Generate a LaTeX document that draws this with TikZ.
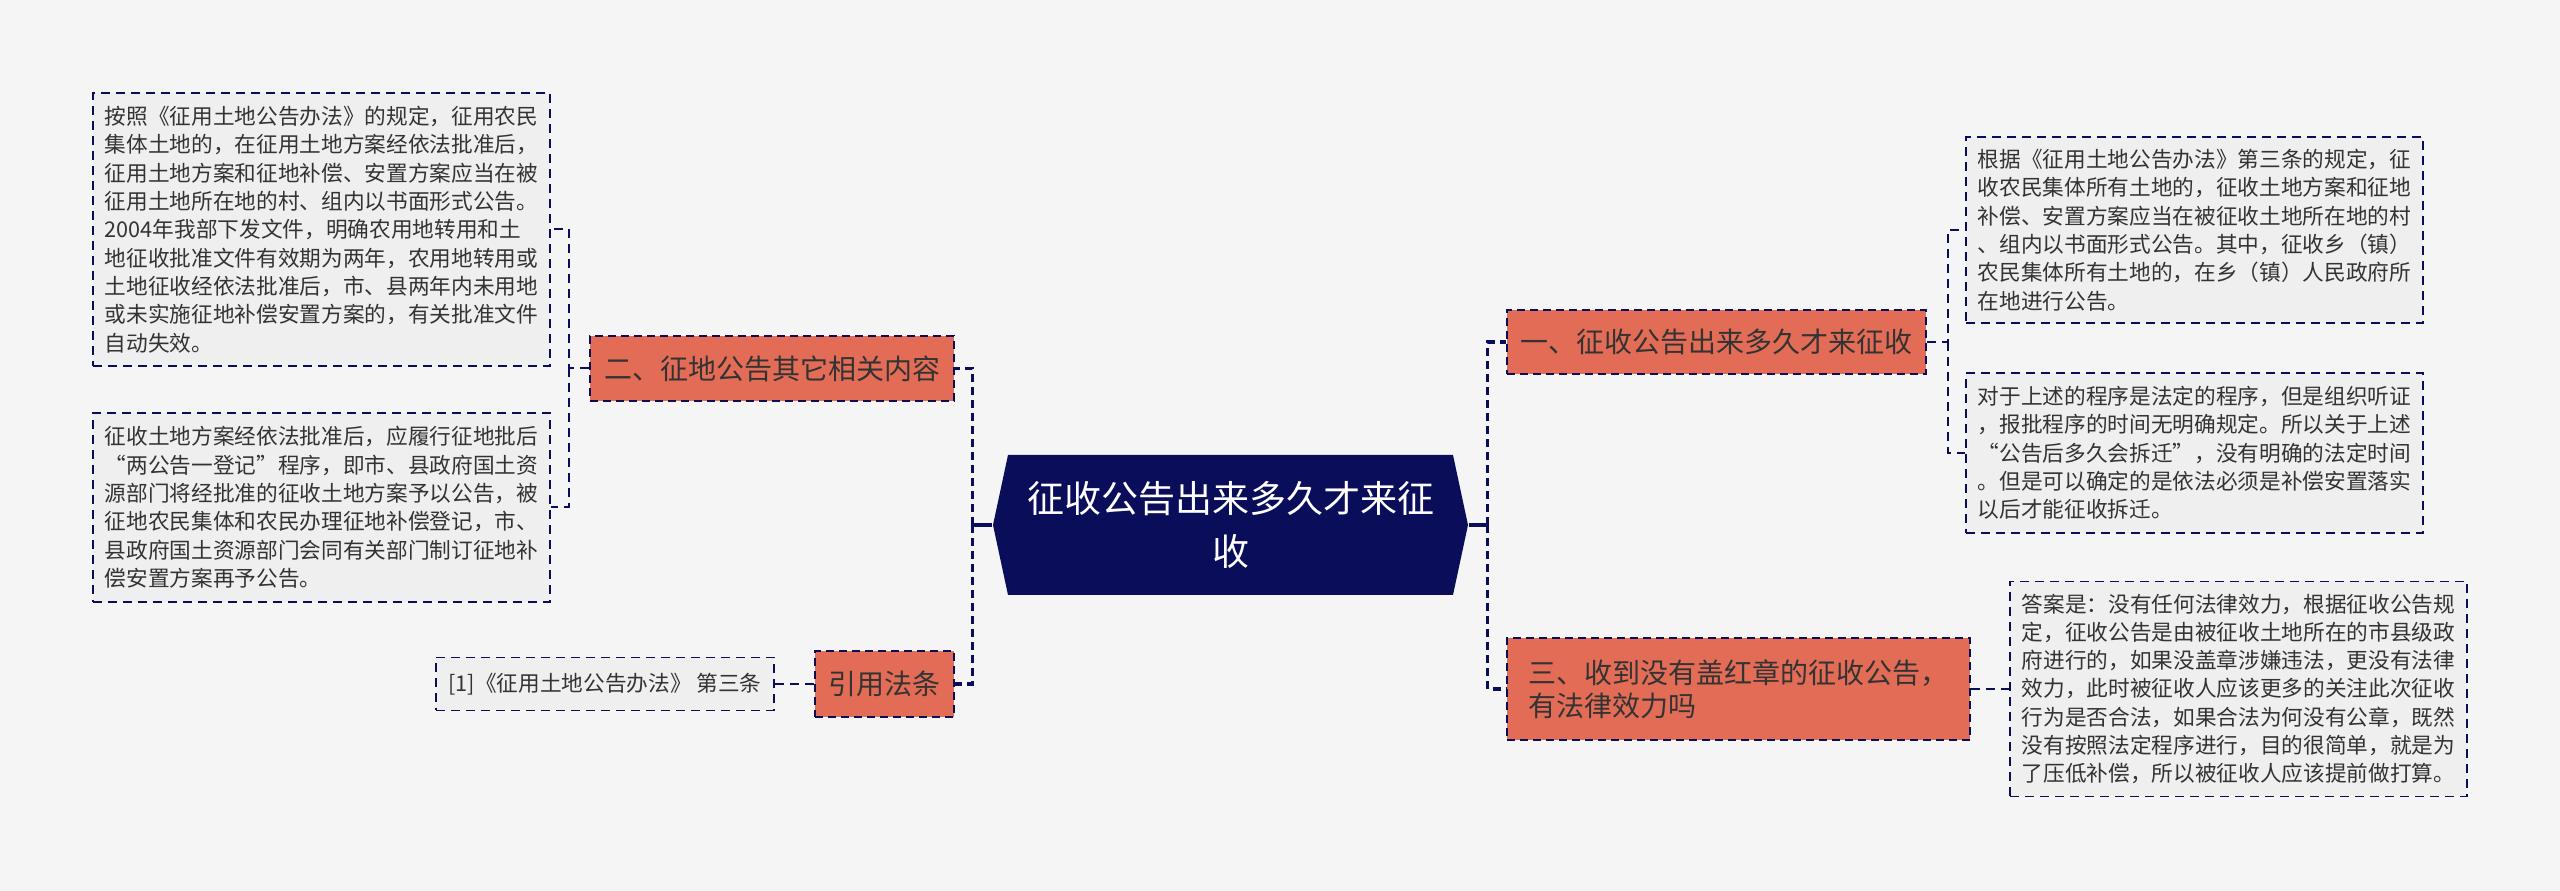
\documentclass[tikz,border=0pt]{standalone}
\usepackage{fontspec}
\setmainfont{Noto Sans CJK SC}
\definecolor{navy}{HTML}{0A0E5A}
\definecolor{coral}{HTML}{E36C57}
\definecolor{paper}{HTML}{F5F5F5}
\definecolor{leafgray}{HTML}{EFEFEF}
\definecolor{ink}{HTML}{333333}

\begin{document}
\begin{tikzpicture}[x=0.3pt, y=-0.3pt,
    root/.style={minimum width=142.5pt, minimum height=42pt, inner sep=0pt,
      text=white, align=center, font=\fontsize{11.1}{15.9}\selectfont,
      path picture={\fill[navy] (path picture bounding box.west)
        -- ([xshift=4.5pt]path picture bounding box.north west)
        -- ([xshift=-4.5pt]path picture bounding box.north east)
        -- (path picture bounding box.east)
        -- ([xshift=-4.5pt]path picture bounding box.south east)
        -- ([xshift=4.5pt]path picture bounding box.south west) -- cycle;}},
    branch/.style={draw=navy, fill=coral, line width=0.7pt, dash pattern=on 2.4pt off 1.5pt,
      inner sep=0pt, text=ink, align=left, font=\fontsize{8.4}{10}\selectfont},
    leaf/.style={draw=navy, fill=leafgray, line width=0.55pt, dash pattern=on 2.7pt off 1.8pt,
      minimum width=137.1pt, inner sep=0pt, text=ink, align=left, font=\fontsize{6.5}{8.5}\selectfont},
    trunk/.style={draw=navy, line width=1pt},
    trunkdash/.style={trunk, dash pattern=on 2.4pt off 1.5pt},
    twig/.style={draw=navy, line width=0.6pt, dash pattern=on 2.7pt off 1.8pt}]

  \fill[paper] (0,0) rectangle (2560,891);

  \node[root] (root) at (1230.5,525) {征收公告出来多久才来征\\收};

  \node[branch, minimum width=125.7pt, minimum height=19.2pt] (b1) at (1716.5,342) {一、征收公告出来多久才来征收};
  \node[branch, minimum width=138.9pt, minimum height=30.6pt] (b3) at (1738.5,689) {三、收到没有盖红章的征收公告，\\有法律效力吗};
  \node[branch, minimum width=109.2pt, minimum height=19.5pt] (b2) at (772,368.5) {二、征地公告其它相关内容};
  \node[branch, minimum width=41.7pt, minimum height=19.8pt] (b4) at (884.5,684) {引用法条};

  \node[leaf, minimum height=81.9pt] (l2a) at (321.5,229.5) {按照《征用土地公告办法》的规定，征用农民\\
    集体土地的，在征用土地方案经依法批准后，\\
    征用土地方案和征地补偿、安置方案应当在被\\
    征用土地所在地的村、组内以书面形式公告。\\
    2004年我部下发文件，明确农用地转用和土\\
    地征收批准文件有效期为两年，农用地转用或\\
    土地征收经依法批准后，市、县两年内未用地\\
    或未实施征地补偿安置方案的，有关批准文件\\
    自动失效。};
  \node[leaf, minimum height=56.7pt] (l2b) at (321.5,507.5) {征收土地方案经依法批准后，应履行征地批后\\
    “两公告一登记”程序，即市、县政府国土资\\
    源部门将经批准的征收土地方案予以公告，被\\
    征地农民集体和农民办理征地补偿登记，市、\\
    县政府国土资源部门会同有关部门制订征地补\\
    偿安置方案再予公告。};
  \node[leaf, minimum width=101.4pt, minimum height=15.9pt] (l4) at (605,684) {[1]《征用土地公告办法》 第三条};

  \node[leaf, minimum height=55.8pt] (l1a) at (2194.5,230) {根据《征用土地公告办法》第三条的规定，征\\
    收农民集体所有土地的，征收土地方案和征地\\
    补偿、安置方案应当在被征收土地所在地的村\\
    、组内以书面形式公告。其中，征收乡（镇）\\
    农民集体所有土地的，在乡（镇）人民政府所\\
    在地进行公告。};
  \node[leaf, minimum height=48pt] (l1b) at (2194.5,453) {对于上述的程序是法定的程序，但是组织听证\\
    ，报批程序的时间无明确规定。所以关于上述\\
    “公告后多久会拆迁”，没有明确的法定时间\\
    。但是可以确定的是依法必须是补偿安置落实\\
    以后才能征收拆迁。};
  \node[leaf, minimum height=64.5pt] (l3) at (2238.5,689) {答案是：没有任何法律效力，根据征收公告规\\
    定，征收公告是由被征收土地所在的市县级政\\
    府进行的，如果没盖章涉嫌违法，更没有法律\\
    效力，此时被征收人应该更多的关注此次征收\\
    行为是否合法，如果合法为何没有公章，既然\\
    没有按照法定程序进行，目的很简单，就是为\\
    了压低补偿，所以被征收人应该提前做打算。};

  \coordinate (rj) at ([xshift=5.7pt]root.east);
  \coordinate (lj) at ([xshift=-6pt]root.west);
  \draw[trunk] (root.east) -- (rj);
  \draw[trunk] (root.west) -- (lj);
  \draw[trunkdash] (rj) |- (b1.west);
  \draw[trunkdash] (rj) |- (b3.west);
  \draw[trunkdash] (lj) |- (b2.east);
  \draw[trunkdash] (lj) |- (b4.east);

  \coordinate (j1) at ([xshift=6.3pt]b1.east);
  \coordinate (j2) at ([xshift=-6pt]b2.west);
  \draw[twig] (b1.east) -- (j1) |- (l1a.west);
  \draw[twig] (j1) |- (l1b.west);
  \draw[twig] (b3.east) -- (l3.west);
  \draw[twig] (b2.west) -- (j2) |- (l2a.east);
  \draw[twig] (j2) |- (l2b.east);
  \draw[twig] (b4.west) -- (l4.east);
\end{tikzpicture}
\end{document}
